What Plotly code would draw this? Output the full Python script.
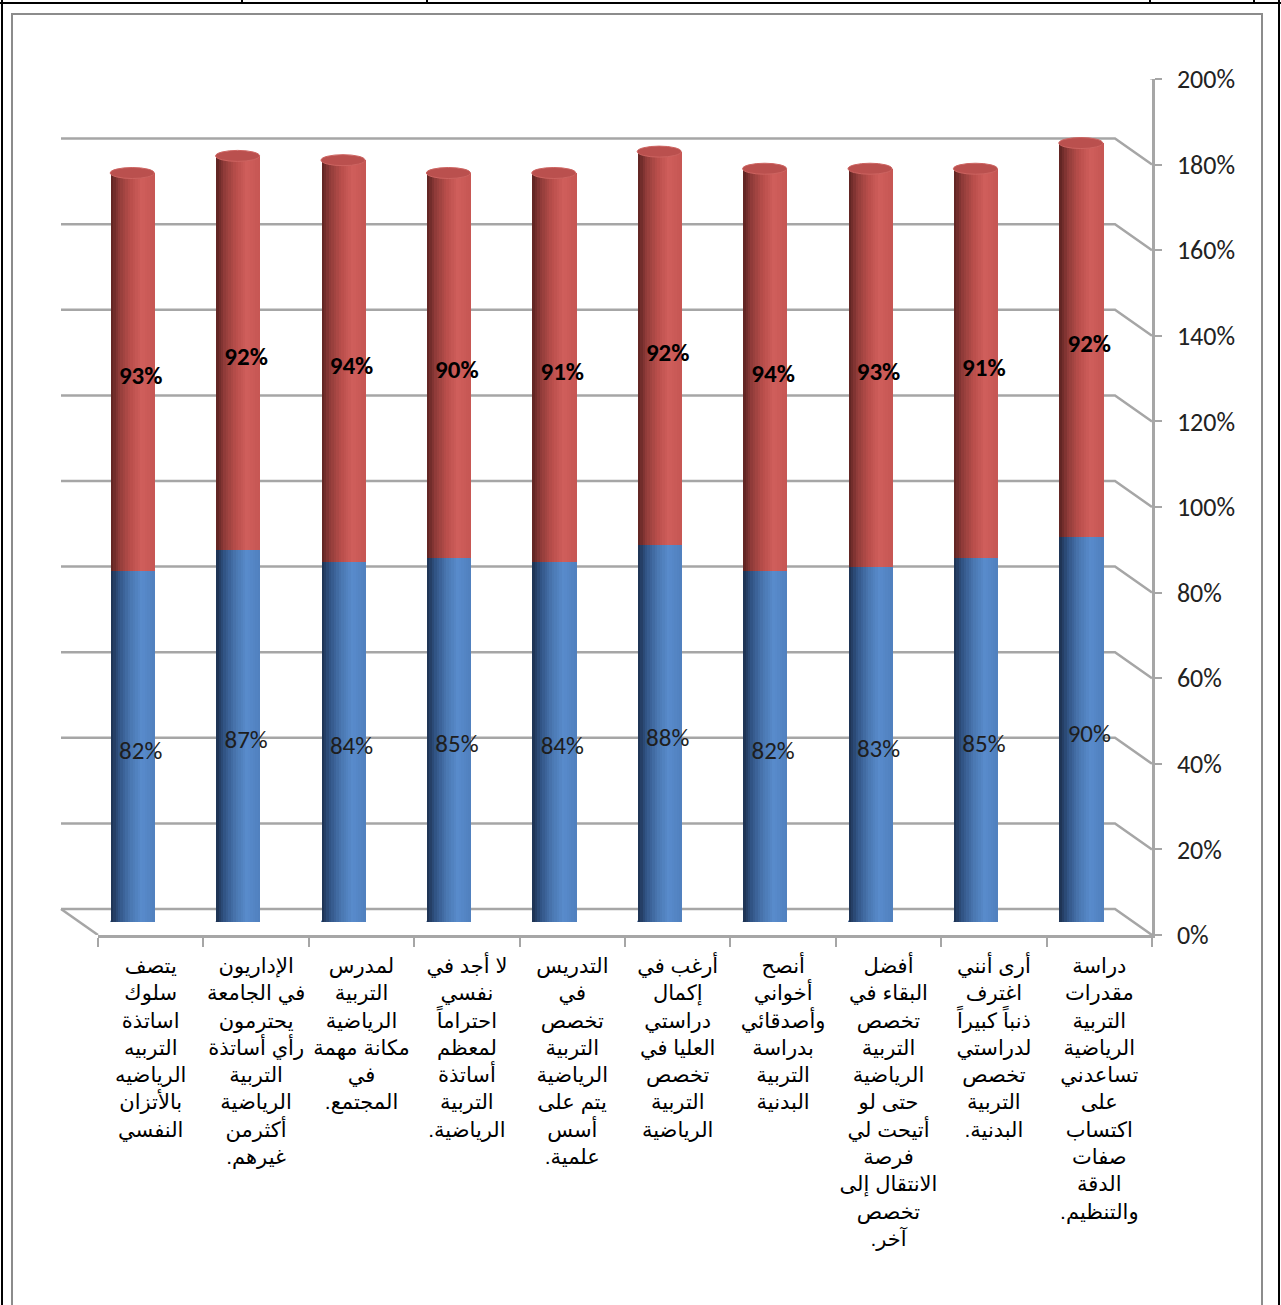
import numpy as np
import plotly.graph_objects as go

RLM = "\u200f"
categories = [
    "يتصف<br>سلوك<br>اساتذة<br>التربيه<br>الرياضيه<br>بالأتزان<br>النفسي",
    "الإداريون<br>في الجامعة<br>يحترمون<br>رأي أساتذة<br>التربية<br>الرياضية<br>أكثرمن<br>غيرهم." + RLM,
    "لمدرس<br>التربية<br>الرياضية<br>مكانة مهمة<br>في<br>المجتمع." + RLM,
    "لا أجد في<br>نفسي<br>احتراماً<br>لمعظم<br>أساتذة<br>التربية<br>الرياضية." + RLM,
    "التدريس<br>في<br>تخصص<br>التربية<br>الرياضية<br>يتم على<br>أسس<br>علمية." + RLM,
    "أرغب في<br>إكمال<br>دراستي<br>العليا في<br>تخصص<br>التربية<br>الرياضية",
    "أنصح<br>أخواني<br>وأصدقائي<br>بدراسة<br>التربية<br>البدنية",
    "أفضل<br>البقاء في<br>تخصص<br>التربية<br>الرياضية<br>حتى لو<br>أتيحت لي<br>فرصة<br>الانتقال إلى<br>تخصص<br>آخر." + RLM,
    "أرى أنني<br>اغترف<br>ذنباً كبيراً<br>لدراستي<br>تخصص<br>التربية<br>البدنية." + RLM,
    "دراسة<br>مقدرات<br>التربية<br>الرياضية<br>تساعدني<br>على<br>اكتساب<br>صفات<br>الدقة<br>والتنظيم." + RLM,
]
blue_values = [82, 87, 84, 85, 84, 88, 82, 83, 85, 90]
red_values = [93, 92, 94, 90, 91, 92, 94, 93, 91, 92]
y_ticks = [0, 20, 40, 60, 80, 100, 120, 140, 160, 180, 200]
y_ticktext = [f"{v}%" for v in y_ticks]

W, H = 1281, 1305
# pixel geometry of the 3D frame
FRONT_X = (98, 1152)
FRONT_Y0, FRONT_Y200 = 935, 79
DX, DY = -37, -26  # back plane offset
px_per_unit = (FRONT_Y0 - FRONT_Y200) / 200.0


def px(x):
    return x / W


def py(y):
    return 1 - y / H


def plane(f):
    """axis domains of a depth plane; f=0 front, f=1 back"""
    return ([px(FRONT_X[0] + DX * f), px(FRONT_X[1] + DX * f)],
            [py(FRONT_Y0 + DY * f), py(FRONT_Y200 + DY * f)])


fig = go.Figure()


def grad(stops, n):
    pos = np.array([s[0] for s in stops])
    cols = np.array([s[1] for s in stops], dtype=float)
    out = []
    for k in range(n):
        t = (k + 0.5) / n
        c = [np.interp(t, pos, cols[:, j]) for j in range(3)]
        out.append("rgb(%d,%d,%d)" % tuple(int(round(v)) for v in c))
    return out


N = 18
blue_cols = grad([(0, (28, 48, 78)), (0.2, (50, 85, 135)), (0.45, (74, 119, 177)),
                  (0.7, (88, 139, 204)), (1.0, (80, 128, 190))], N)
red_cols = grad([(0, (92, 34, 33)), (0.2, (145, 60, 58)), (0.45, (185, 78, 75)),
                 (0.7, (207, 94, 91)), (1.0, (198, 86, 83))], N)
bw = 44 / ((FRONT_X[1] - FRONT_X[0]) / 10.0)

blue_arr = np.array(blue_values)
red_arr = np.array(red_values)

for k in range(N):
    fig.add_trace(go.Bar(x=categories, y=blue_arr, width=bw / N * 1.08,
                         offset=-bw / 2 + k * bw / N, marker=dict(color=blue_cols[k], line=dict(width=0)),
                         showlegend=False, hoverinfo="skip", xaxis="x", yaxis="y"))
for k in range(N):
    fig.add_trace(go.Bar(x=categories, y=red_arr, base=blue_arr, width=bw / N * 1.08,
                         offset=-bw / 2 + k * bw / N, marker=dict(color=red_cols[k], line=dict(width=0)),
                         showlegend=False, hoverinfo="skip", xaxis="x", yaxis="y"))

# data labels (drawn on a plane slightly in front of the bars)
fig.add_trace(go.Scatter(x=categories, y=blue_arr / 2, mode="text",
                         text=[f"{v}%" for v in blue_values], textposition="middle center",
                         textfont=dict(family="Carlito, Calibri, Liberation Sans", size=25, color="#1e1e1e"),
                         showlegend=False, hoverinfo="skip", xaxis="x3", yaxis="y3"))
fig.add_trace(go.Scatter(x=categories, y=blue_arr + red_arr / 2, mode="text",
                         text=[f"<b>{v}%</b>" for v in red_values], textposition="middle center",
                         textfont=dict(family="Carlito, Calibri, Liberation Sans", size=25, color="#000000"),
                         showlegend=False, hoverinfo="skip", xaxis="x3", yaxis="y3"))

# hidden trace to establish the front axes
fig.add_trace(go.Scatter(x=categories, y=[0] * len(categories), mode="markers",
                         marker=dict(opacity=0), showlegend=False, hoverinfo="skip",
                         xaxis="x2", yaxis="y2"))

shapes = []
ell_h = 5.5 / px_per_unit
grid_col = "#a6a6a6"
dy_units = -DY / px_per_unit
# back wall gridlines + diagonal connectors to the front axis
for v in y_ticks:
    shapes.append(dict(type="path", xref="paper", yref="y2",
                       path="M %f,%f L %f,%f L %f,%f" % (px(FRONT_X[0] + DX), v + dy_units,
                                                         px(FRONT_X[1] + DX), v + dy_units,
                                                         px(FRONT_X[1]), v),
                       line=dict(color=grid_col, width=2.5), layer="below"))
# left floor edge
shapes.append(dict(type="line", xref="paper", yref="y2", x0=px(FRONT_X[0] + DX), x1=px(FRONT_X[0]),
                   y0=dy_units, y1=0, line=dict(color=grid_col, width=2.5), layer="below"))
# bottom ellipses & top caps
for i, c in enumerate(categories):
    shapes.append(dict(type="circle", xref="x", yref="y", x0=i - bw / 2, x1=i + bw / 2,
                       y0=-ell_h, y1=ell_h, fillcolor="rgb(60,100,155)", line=dict(width=0), layer="below"))
    top = blue_values[i] + red_values[i]
    shapes.append(dict(type="circle", xref="x", yref="y", x0=i - bw / 2, x1=i + bw / 2,
                       y0=top - ell_h, y1=top + ell_h, fillcolor="rgb(186,80,78)",
                       line=dict(width=1, color="rgb(205,100,97)"), layer="above"))
# frames
shapes.append(dict(type="rect", xref="paper", yref="paper", x0=px(12), x1=px(1262), y0=-0.05, y1=py(14),
                   line=dict(color="#8c8c8c", width=2), layer="below"))
shapes.append(dict(type="line", xref="paper", yref="paper", x0=px(2), x1=px(2), y0=0, y1=1,
                   line=dict(color="#000", width=2)))
shapes.append(dict(type="line", xref="paper", yref="paper", x0=px(1279), x1=px(1279), y0=0, y1=1,
                   line=dict(color="#000", width=2)))
shapes.append(dict(type="line", xref="paper", yref="paper", x0=0, x1=1, y0=py(3), y1=py(3),
                   line=dict(color="#000", width=2)))
for xx in [242, 427, 1150, 1254]:
    shapes.append(dict(type="line", xref="paper", yref="paper", x0=px(xx), x1=px(xx), y0=py(0), y1=py(3),
                       line=dict(color="#000", width=2)))

mid_dom = plane(0.5)
front_dom = plane(0.0)
lab_dom = plane(0.27)
fig.update_layout(
    width=W, height=H, margin=dict(l=0, r=0, t=0, b=0, pad=0, autoexpand=False),
    paper_bgcolor="white", plot_bgcolor="rgba(0,0,0,0)",
    barmode="overlay", bargap=0,
    shapes=shapes,
    xaxis=dict(domain=mid_dom[0], type="category", categoryorder="array",
               categoryarray=categories, range=[-0.5, 9.5], visible=False, anchor="y", automargin=False),
    yaxis=dict(domain=mid_dom[1], range=[0, 200], visible=False, anchor="x", automargin=False),
    xaxis3=dict(domain=lab_dom[0], type="category", categoryorder="array",
                categoryarray=categories, range=[-0.5, 9.5], visible=False, anchor="y3", automargin=False),
    yaxis3=dict(domain=lab_dom[1], range=[0, 200], visible=False, anchor="x3", automargin=False),
    xaxis2=dict(domain=front_dom[0], type="category", categoryorder="array",
                categoryarray=categories, range=[-0.5, 9.5], anchor="y2", automargin=False,
                showline=True, linecolor=grid_col, linewidth=2.5, ticks="outside", tickson="boundaries",
                ticklen=9, tickwidth=2, tickcolor=grid_col, showgrid=False, zeroline=False,
                tickangle=0, ticklabelstandoff=10,
                tickfont=dict(family="Arial, DejaVu Sans", size=21, color="#000")),
    yaxis2=dict(domain=front_dom[1], range=[0, 200], anchor="x2", side="right",
                automargin=False,
                tickvals=y_ticks, ticktext=y_ticktext, showline=True, linecolor=grid_col, linewidth=2.5,
                ticks="outside", ticklen=7, tickwidth=2, tickcolor=grid_col, showgrid=False, zeroline=False,
                ticklabelstandoff=10,
                tickfont=dict(family="Carlito, Calibri, Liberation Sans", size=26, color="#222")),
)

fig.write_html("out.html")
